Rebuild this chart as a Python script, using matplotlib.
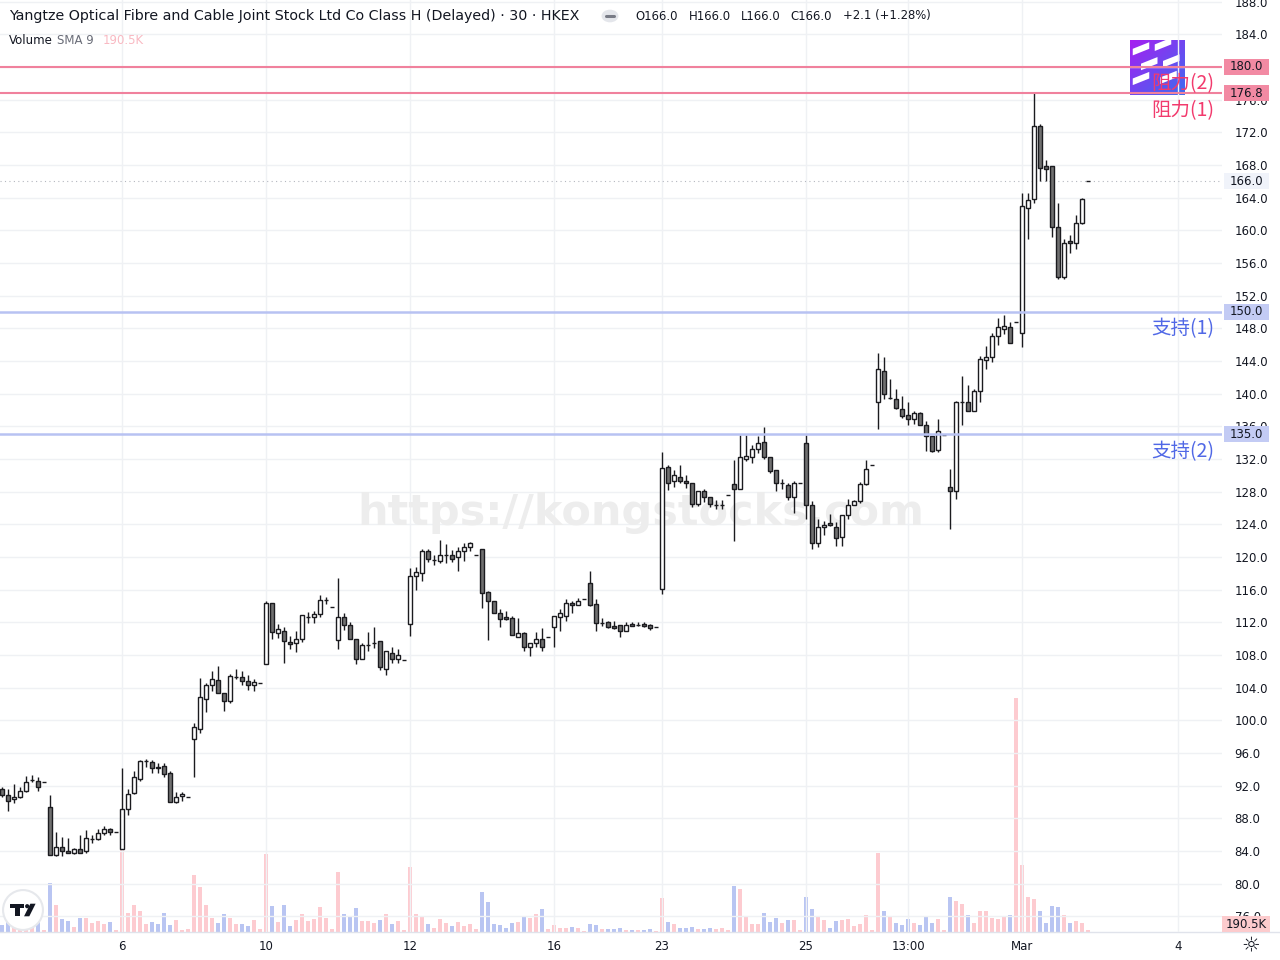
import numpy as np
import matplotlib.pyplot as plt
from matplotlib.patches import Rectangle, Circle, Polygon
from matplotlib.transforms import blended_transform_factory

plt.rcParams['font.family'] = ['DejaVu Sans']

# 30 minute bars (OHLC)
opens = [91.6, 90.9, 90.4, 90.6, 91.35, 92.7, 92.6, 92.45, 89.4, 83.5, 84.5, 84.0,
         83.75, 84.25, 84.0, 85.5, 85.5, 86.2, 86.7, 86.3, 84.25, 89.1, 91.1, 92.8,
         95.0, 94.9, 94.3, 94.4, 93.55, 90.0, 90.7, 90.6, 97.7, 98.9, 102.6, 104.3,
         104.9, 103.35, 102.4, 105.3, 105.3, 104.8, 104.3, 104.6, 106.9, 114.4, 110.7, 110.9,
         109.6, 109.5, 110.0, 112.7, 112.7, 113.0, 114.7, 113.9, 109.8, 112.65, 111.7, 110.0,
         107.5, 109.2, 109.5, 109.7, 106.3, 108.25, 107.5, 107.4, 111.8, 117.7, 118.05, 120.7,
         119.6, 119.5, 120.2, 120.3, 120.0, 120.7, 121.2, 120.25, 121.0, 115.7, 114.6, 113.15,
         112.6, 112.5, 110.2, 110.7, 109.0, 109.5, 109.9, 110.2, 111.4, 112.7, 112.8, 114.4,
         114.1, 114.85, 116.8, 114.25, 111.9, 112.0, 111.6, 111.7, 110.95, 111.8, 111.7, 111.8,
         111.7, 111.4, 116.1, 131.0, 129.3, 129.8, 129.3, 129.1, 126.5, 128.1, 127.35, 126.4,
         126.4, 127.6, 128.9, 128.3, 132.0, 132.2, 133.2, 134.1, 132.25, 130.65, 129.1, 128.8,
         127.35, 129.1, 133.95, 126.4, 121.7, 123.7, 124.2, 123.7, 122.45, 125.15, 126.4, 126.8,
         128.9, 131.3, 138.98, 142.8, 139.5, 139.35, 138.1, 137.4, 136.9, 137.6, 136.2, 134.8,
         133.1, 134.9, 128.6, 128.1, 139.0, 139.0, 137.9, 140.3, 144.1, 144.5, 147.1, 147.9,
         148.2, 148.8, 147.4, 162.7, 163.8, 172.8, 167.9, 167.9, 160.4, 154.3, 158.7, 158.45,
         160.9, 166.0]
highs = [91.8, 91.6, 92.2, 91.8, 93.2, 93.3, 93.1, 92.45, 90.9, 86.3, 85.7, 85.6,
         84.4, 86.0, 86.6, 86.0, 86.7, 87.1, 86.8, 86.3, 94.2, 91.6, 93.8, 95.2,
         95.3, 95.2, 94.8, 94.8, 93.8, 91.2, 91.2, 90.6, 99.7, 105.2, 104.6, 106.0,
         106.65, 103.35, 105.7, 106.3, 106.0, 105.5, 105.0, 104.6, 114.6, 114.4, 111.8, 111.4,
         110.3, 110.9, 112.9, 113.3, 113.4, 115.3, 115.1, 113.9, 117.4, 113.1, 112.0, 110.0,
         109.5, 110.8, 111.4, 109.7, 108.5, 109.0, 108.7, 107.4, 118.65, 118.8, 121.0, 121.0,
         120.2, 122.1, 121.6, 120.9, 121.2, 121.7, 121.8, 120.25, 121.0, 115.8, 114.6, 113.6,
         113.4, 112.8, 112.5, 110.8, 109.5, 110.8, 111.3, 110.2, 112.8, 113.6, 114.9, 114.6,
         114.95, 114.85, 118.3, 114.9, 112.5, 112.2, 112.2, 111.7, 112.0, 112.0, 112.0, 112.0,
         111.8, 111.4, 132.9, 131.3, 130.65, 131.3, 130.0, 129.1, 128.1, 128.3, 127.35, 127.0,
         127.0, 127.6, 131.9, 134.9, 134.9, 133.7, 134.8, 135.9, 132.25, 130.65, 129.55, 129.1,
         129.3, 129.1, 134.9, 126.8, 124.65, 124.4, 125.3, 124.3, 125.15, 127.1, 127.0, 129.2,
         131.9, 131.3, 145.0, 144.5, 141.8, 140.6, 139.7, 139.0, 137.9, 137.8, 136.65, 134.8,
         136.9, 134.9, 130.8, 139.1, 142.2, 141.0, 140.6, 144.6, 145.8, 147.4, 149.3, 149.6,
         148.8, 148.8, 164.6, 164.6, 176.8, 173.0, 168.6, 167.9, 163.3, 158.9, 159.4, 161.9,
         163.96, 166.0]
lows = [90.6, 88.9, 89.9, 90.5, 91.2, 92.5, 91.35, 92.45, 83.5, 83.4, 83.4, 83.75,
        83.6, 83.7, 83.8, 85.0, 85.3, 86.0, 86.0, 86.3, 84.2, 88.4, 91.0, 92.6,
        94.3, 93.5, 93.6, 93.1, 90.0, 89.9, 90.1, 90.6, 93.1, 98.45, 101.0, 103.6,
        103.35, 101.1, 102.1, 105.1, 104.3, 103.7, 103.6, 104.6, 106.9, 110.0, 110.1, 107.0,
        108.7, 108.4, 109.6, 111.9, 111.9, 112.7, 114.3, 113.9, 108.7, 111.0, 110.0, 106.9,
        107.5, 108.5, 108.8, 106.2, 105.55, 107.0, 107.0, 107.4, 110.3, 116.0, 117.0, 119.4,
        119.0, 119.3, 119.3, 119.4, 118.3, 119.5, 120.7, 120.25, 113.75, 109.8, 113.1, 111.4,
        112.3, 110.45, 110.2, 108.5, 107.9, 109.0, 108.5, 110.2, 109.0, 110.9, 112.2, 113.15,
        114.1, 114.85, 114.0, 110.9, 111.5, 111.3, 111.2, 110.2, 110.9, 111.5, 111.5, 111.4,
        111.1, 111.4, 115.5, 128.2, 128.6, 129.1, 128.4, 126.1, 126.3, 126.7, 126.1, 125.9,
        125.9, 127.6, 122.0, 128.3, 131.75, 131.5, 132.7, 132.0, 130.3, 128.1, 128.3, 127.0,
        125.4, 129.1, 124.65, 121.0, 121.2, 122.7, 123.8, 121.3, 121.3, 124.65, 126.4, 126.65,
        128.8, 131.3, 135.7, 139.35, 139.35, 138.1, 137.0, 136.2, 136.3, 136.2, 133.0, 132.8,
        132.9, 134.9, 123.4, 127.1, 136.2, 137.9, 137.9, 139.0, 143.0, 143.9, 146.0, 147.3,
        146.2, 148.8, 145.7, 158.9, 163.3, 166.0, 166.0, 159.2, 154.0, 154.0, 157.2, 157.7,
        160.8, 166.0]
closes = [90.9, 90.1, 90.6, 91.35, 92.45, 92.7, 91.8, 92.45, 83.5, 84.5, 84.0, 83.75,
          84.25, 83.75, 85.6, 85.5, 86.2, 86.7, 86.3, 86.3, 89.1, 91.0, 93.1, 95.0,
          95.0, 94.2, 94.2, 93.45, 90.0, 90.6, 91.0, 90.6, 99.2, 102.9, 104.3, 105.1,
          103.35, 102.4, 105.4, 105.3, 104.8, 104.3, 104.7, 104.6, 114.4, 110.8, 111.2, 109.7,
          109.35, 110.0, 112.9, 112.7, 113.0, 114.7, 114.7, 113.9, 112.65, 111.7, 110.0, 107.5,
          109.2, 109.2, 109.5, 106.5, 108.5, 107.5, 108.0, 107.4, 117.7, 118.2, 120.7, 119.75,
          119.6, 120.2, 120.2, 119.8, 120.7, 121.2, 121.7, 120.25, 115.6, 114.6, 113.15, 112.4,
          112.4, 110.45, 110.7, 109.0, 109.5, 109.9, 109.0, 110.2, 112.8, 113.1, 114.4, 114.1,
          114.6, 114.85, 114.1, 111.9, 111.9, 111.4, 111.3, 110.95, 111.7, 111.6, 111.7, 111.5,
          111.35, 111.4, 130.9, 129.1, 130.0, 129.3, 129.1, 126.5, 128.1, 127.35, 126.5, 126.4,
          126.4, 127.6, 128.3, 132.2, 132.4, 133.2, 134.0, 132.25, 130.5, 129.1, 129.1, 127.35,
          129.1, 129.1, 126.4, 121.7, 123.7, 123.9, 123.9, 122.3, 125.15, 126.4, 126.8, 128.9,
          130.8, 131.3, 143.0, 139.96, 139.5, 138.25, 137.3, 136.9, 137.6, 136.2, 134.8, 133.0,
          135.4, 134.9, 128.1, 139.0, 139.0, 137.9, 140.3, 144.25, 144.5, 147.1, 148.2, 148.3,
          146.2, 148.8, 163.0, 163.7, 172.8, 167.6, 167.5, 160.4, 154.3, 158.45, 158.45, 160.9,
          163.8, 166.0]
# volume in thousands of shares
volumes = [694, 1330, 827, 694, 950, 504, 950, 190, 4684, 2594, 1264, 1074,
           504, 1330, 1330, 827, 1074, 760, 950, 190, 7914, 1834, 2537, 2024,
           760, 950, 760, 1834, 694, 1140, 190, 285, 5444, 4304, 2565, 1330,
           855, 1710, 1330, 760, 760, 570, 1140, 285, 7410, 2470, 950, 2565,
           570, 1140, 1710, 1045, 1235, 2375, 1330, 285, 5700, 1710, 1425, 2280,
           1045, 1045, 855, 1140, 1710, 760, 1045, 190, 6175, 1710, 1520, 760,
           380, 1235, 855, 570, 950, 570, 760, 285, 3800, 2850, 760, 665,
           380, 855, 950, 1520, 1330, 1710, 2185, 285, 665, 380, 380, 475,
           380, 95, 760, 665, 285, 285, 285, 380, 190, 190, 190, 190,
           285, 95, 3230, 950, 760, 380, 380, 475, 285, 285, 380, 285,
           380, 190, 4370, 4085, 1425, 760, 760, 1805, 950, 1330, 855, 1140,
           1140, 190, 3325, 2185, 1425, 1140, 380, 1045, 1140, 1235, 570, 760,
           1587, 190, 7477, 2024, 1454, 827, 637, 1264, 827, 694, 1397, 827,
           1207, 190, 3297, 2974, 2660, 1644, 884, 2024, 2024, 1330, 1264, 1454,
           1644, 22230, 6337, 3297, 3107, 2024, 884, 2470, 2347, 1644, 827, 1017,
           884, 190.5]

tick_pos = [20, 44, 68, 92, 110, 134, 151, 170, 196]
tick_labels = ['6', '10', '12', '16', '23', '25', '13:00', 'Mar', '4']

resist = [180.0, 176.8]
resist_names = ['阻力(2)', '阻力(1)']
support = [150.0, 135.0]
support_names = ['支持(1)', '支持(2)']
last_price = 166.0
last_vol_text = '190.5K'

title = 'Yangtze Optical Fibre and Cable Joint Stock Ltd Co Class H (Delayed) · 30 · HKEX'
ohlc_groups = ['O166.0', 'H166.0', 'L166.0', 'C166.0', '+2.1 (+1.28%)']
ohlc_x = [635, 689, 741, 790, 843]

edge = '#1b1b1f'
down_fill = '#707070'
up_vol = '#fdcbd0'
down_vol = '#b9c5f2'
res_color = '#f0819d'
res_text = '#f23a6d'
sup_color = '#b8c2f2'
sup_text = '#5068e6'
grid_c = '#eff1f4'
txt = '#131722'
cjk = ['Noto Sans CJK SC', 'DejaVu Sans']

o = np.array(opens)
h = np.array(highs)
l = np.array(lows)
c = np.array(closes)
x = np.arange(len(o))
up = c >= o

fig = plt.figure(figsize=(12.8, 9.6), dpi=100)
ax = fig.add_axes([0, 28 / 960, 1222 / 1280, 932 / 960])
ax2 = ax.twinx()
ax.set_zorder(2)
ax.patch.set_visible(False)
ax2.set_zorder(1)

ax.set_xlim(-1 / 3, 203.33)
ax.set_ylim(74.08, 188.2)

# volume
ax2.bar(x, volumes, width=0.78, color=np.where(up, up_vol, down_vol), linewidth=0)
ax2.set_ylim(0, 88540)
ax2.axis('off')

# ticks and grid
yt = np.arange(76, 189, 4)
ax.set_yticks(yt)
ax.set_yticklabels(['{:.1f}'.format(v) for v in yt])
ax.set_xticks(tick_pos)
ax.set_xticklabels(tick_labels)
ax.yaxis.tick_right()
ax.tick_params(axis='y', length=0, pad=9, labelsize=8.5, colors=txt)
ax.tick_params(axis='x', length=0, pad=6, labelsize=8.5, colors=txt)
for v in yt:
    ax.axhline(v, color=grid_c, lw=1, zorder=0)
for p in tick_pos:
    ax.axvline(p, color=grid_c, lw=1, zorder=0)
for s in ax.spines.values():
    s.set_visible(False)

# watermark
ax.text(0.524, 0.45, 'https://kongstocks.com', transform=ax.transAxes, fontsize=31,
        fontweight='bold', color='#ededed', ha='center', va='center', zorder=0.5)

# last price dotted line
ax.axhline(last_price, color='#b4b7bf', lw=0.8, ls=(0, (1, 3)), zorder=1)

# candles
ax.vlines(x, l, h, color=edge, lw=1.0, zorder=3)
ax.bar(x, np.abs(c - o), width=0.76, bottom=np.minimum(o, c),
       color=np.where(up, 'white', down_fill), edgecolor=edge, linewidth=1.0, zorder=4)

# horizontal levels
bt = blended_transform_factory(ax.transAxes, ax.transData)
for p, name in zip(resist, resist_names):
    ax.axhline(p, color=res_color, lw=1.5, zorder=5)
    ax.text(0.9935, p - 2.1, name, transform=bt, ha='right', va='center',
            color=res_text, fontsize=14, family=cjk, zorder=7)
for p, name in zip(support, support_names):
    ax.axhline(p, color=sup_color, lw=1.8, zorder=5)
    ax.text(0.9935, p - 2.1, name, transform=bt, ha='right', va='center',
            color=sup_text, fontsize=14, family=cjk, zorder=7)


def price_tag(p, face, color):
    ax.add_patch(Rectangle((1.0015, p - 0.98), 45 / 1222, 1.96, transform=bt,
                           facecolor=face, edgecolor='none', clip_on=False, zorder=10))
    ax.text(1.0015 + 22.5 / 1222, p, '{:.1f}'.format(p), transform=bt, ha='center',
            va='center', fontsize=8.5, color=color, clip_on=False, zorder=11)


for p in resist:
    price_tag(p, '#f28aa3', txt)
for p in support:
    price_tag(p, '#c3cbf4', txt)
price_tag(last_price, '#f0f3fa', txt)

ax.add_patch(Rectangle((1.0, 0.0), 48 / 1222, 16 / 932, transform=ax.transAxes,
                       facecolor='#fccbcd', edgecolor='none', clip_on=False, zorder=10))
ax.text(1.0 + 24 / 1222, 8 / 932, last_vol_text, transform=ax.transAxes, ha='center',
        va='center', fontsize=8.5, color=txt, clip_on=False, zorder=11)

# bottom separator
fig.add_artist(plt.Line2D([0, 1], [28 / 960, 28 / 960], color='#e0e3eb', lw=1))

# header
fig.text(9 / 1280, 1 - 16 / 960, title, fontsize=10.3, color=txt, va='center')
fig.add_artist(Circle((610 / 1280, 1 - 16 / 960), 0.0066, transform=fig.transFigure,
                      facecolor='#e4e6eb', edgecolor='none'))
fig.add_artist(plt.Line2D([606 / 1280, 614 / 1280], [1 - 16 / 960, 1 - 16 / 960],
                          color='#787b86', lw=2.2, solid_capstyle='round'))
for gx0, t in zip(ohlc_x, ohlc_groups):
    fig.text(gx0 / 1280, 1 - 16 / 960, t, fontsize=8.4, color=txt, va='center')

fig.text(9 / 1280, 1 - 40 / 960, 'Volume', fontsize=8.5, color=txt, va='center')
fig.text(57 / 1280, 1 - 40 / 960, 'SMA 9', fontsize=8.5, color='#6a6d78', va='center')
fig.text(103 / 1280, 1 - 40 / 960, last_vol_text, fontsize=8.5, color='#f9b9c2', va='center')

# logo square
lax = fig.add_axes([1130 / 1280, 1 - 95 / 960, 55 / 1280, 55 / 960])
gx, gy = np.meshgrid(np.linspace(0, 1, 50), np.linspace(0, 1, 50))
lax.imshow(gx * 0.5 + gy * 0.5, cmap=plt.matplotlib.colors.LinearSegmentedColormap.from_list(
    'lg', ['#a61ff0', '#3d6cf0']), extent=(0, 1, 0, 1), origin='upper')
for (px, py) in [(0.05, 0.72), (0.45, 0.8), (0.2, 0.45), (0.6, 0.5), (0.05, 0.18), (0.55, 0.2)]:
    lax.add_patch(Polygon([(px, py), (px + 0.3, py + 0.12), (px + 0.3, py + 0.24), (px, py + 0.12)],
                          facecolor='white', edgecolor='none'))
lax.set_xlim(0, 1)
lax.set_ylim(0, 1)
lax.axis('off')
lax.set_zorder(1.5)

# TradingView badge
tax = fig.add_axes([2 / 1280, (960 - 931) / 960, 42 / 1280, 42 / 960])
tax.set_xlim(-1, 1)
tax.set_ylim(-1, 1)
tax.add_patch(Circle((0, 0), 0.95, facecolor='white', edgecolor='#e6e8ec', lw=1.5))
tax.add_patch(Polygon([(-0.6, 0.3), (0.05, 0.3), (0.05, 0.1), (-0.15, 0.1), (-0.15, -0.3),
                       (-0.38, -0.3), (-0.38, 0.1), (-0.6, 0.1)], facecolor=txt))
tax.add_patch(Circle((0.2, 0.18), 0.1, facecolor=txt))
tax.add_patch(Polygon([(0.35, 0.3), (0.6, 0.3), (0.3, -0.3), (0.05, -0.3)], facecolor=txt))
tax.axis('off')
tax.set_zorder(3)

# settings icon
fig.text(1251 / 1280, 1 - 945 / 960, '☼', fontsize=15, color=txt, ha='center', va='center')

fig.savefig('out.png', dpi=100, facecolor='white')
